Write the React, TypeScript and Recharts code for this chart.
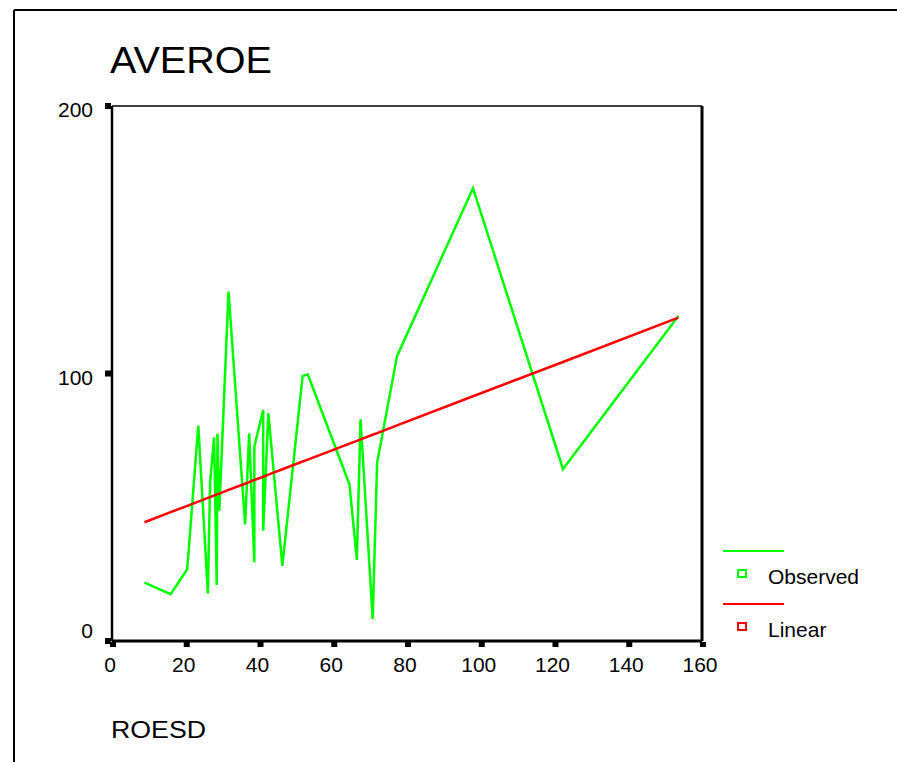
import React from 'react'
import { LineChart, Line, XAxis, YAxis, ReferenceLine } from 'recharts'

// ROESD values (x), in plotted order
const roesd = [
  8.8, 15.9, 20.4, 23.4, 26.0, 26.6, 27.7, 28.4, 28.6, 29.1,
  31.6, 36.1, 37.2, 38.6, 38.6, 41.0, 41.0, 42.4, 46.2, 51.7,
  53.1, 64.4, 66.4, 67.4, 70.7, 71.9, 77.3, 97.9, 122.3, 153.6,
]

// AVEROE observed
const observed = [
  21.8, 17.5, 26.8, 80.5, 17.8, 59.3, 76.1, 20.9, 77.6, 48.7,
  130.6, 43.6, 77.6, 29.4, 72.6, 86.4, 41.2, 85.1, 28.1, 99.1,
  99.6, 58.6, 30.3, 82.9, 8.2, 66.7, 106.5, 169.3, 64.3, 121.5,
]

// linear fit, as drawn
const linear = [
  44.4, 48.2, 50.5, 52.1, 53.5, 53.8, 54.4, 54.8, 54.9, 55.1,
  56.5, 58.8, 59.4, 60.2, 60.2, 61.4, 61.4, 62.2, 64.2, 67.1,
  67.8, 73.8, 74.8, 75.4, 77.1, 77.7, 80.6, 91.5, 104.3, 120.9,
]

const xTicks = [0, 20, 40, 60, 80, 100, 120, 140, 160]
const yTicks = [0, 100, 200]

const legendItems = [
  { name: 'Observed', color: '#00ff00' },
  { name: 'Linear', color: '#ff0000' },
]

const font = '"Liberation Sans", Arial, sans-serif'

function XTick({ x, y, payload }: any) {
  return (
    <g>
      <rect x={x - 2} y={y + 1} width={6} height={5} fill="#000" />
      <text x={x - 2} y={y + 31} textAnchor="middle" fontSize={21} fill="#000" fontFamily={font}>
        {payload.value}
      </text>
    </g>
  )
}

function YTick({ x, y, payload }: any) {
  const dy = payload.value === 0 ? -3 : 11
  return (
    <g>
      <rect x={x - 7} y={y - 3} width={6} height={6} fill="#000" />
      <text x={x - 19} y={y + dy} textAnchor="end" fontSize={21} fill="#000" fontFamily={font}>
        {payload.value}
      </text>
    </g>
  )
}

export default function App() {
  const data = roesd.map((x, i) => ({ x, observed: observed[i], linear: linear[i] }))

  return (
    <div style={{ position: 'absolute', left: 0, top: 0, width: 897, height: 762, background: '#fff' }}>
      <svg width={897} height={762} style={{ position: 'absolute', left: 0, top: 0 }}>
        <line x1={14} y1={10} x2={897} y2={10} stroke="#000" strokeWidth={2} />
        <line x1={14} y1={10} x2={14} y2={762} stroke="#000" strokeWidth={2} />
        <text x={110} y={73} fontSize={37} fontFamily={font} textLength={162} lengthAdjust="spacingAndGlyphs">
          AVEROE
        </text>
        <text x={111} y={738} fontSize={24} fontFamily={font} textLength={95} lengthAdjust="spacingAndGlyphs">
          ROESD
        </text>
        {legendItems.map((item, i) => {
          const top = 551 + i * 53
          return (
            <g key={item.name}>
              <line x1={723} y1={top} x2={784} y2={top} stroke={item.color} strokeWidth={2} />
              <rect x={738} y={top + 19} width={8} height={7} fill="none" stroke={item.color} strokeWidth={2} />
              <text x={768} y={top + 33} fontSize={21} fontFamily={font} fill="#000">
                {item.name}
              </text>
            </g>
          )
        })}
      </svg>
      <div style={{ position: 'absolute', left: 0, top: 0 }}>
        <LineChart
          width={897}
          height={762}
          data={data}
          margin={{ top: 106, right: 195, bottom: 81, left: 52 }}
        >
          <XAxis
            dataKey="x"
            type="number"
            domain={[0, 160]}
            ticks={xTicks}
            height={40}
            tickSize={0}
            tickMargin={0}
            tickLine={false}
            axisLine={{ stroke: '#000', strokeWidth: 3 }}
            tick={<XTick />}
            interval={0}
          />
          <YAxis
            type="number"
            domain={[0, 200]}
            ticks={yTicks}
            width={60}
            tickSize={0}
            tickMargin={0}
            tickLine={false}
            axisLine={{ stroke: '#000', strokeWidth: 2.5 }}
            tick={<YTick />}
            interval={0}
          />
          <ReferenceLine y={200} stroke="#000" strokeWidth={1.5} />
          <ReferenceLine x={160} stroke="#000" strokeWidth={3} />
          <Line
            dataKey="observed"
            type="linear"
            stroke="#00ff00"
            strokeWidth={2.5}
            dot={false}
            isAnimationActive={false}
          />
          <Line
            dataKey="linear"
            type="linear"
            stroke="#ff0000"
            strokeWidth={2.5}
            dot={false}
            isAnimationActive={false}
          />
        </LineChart>
      </div>
    </div>
  )
}
